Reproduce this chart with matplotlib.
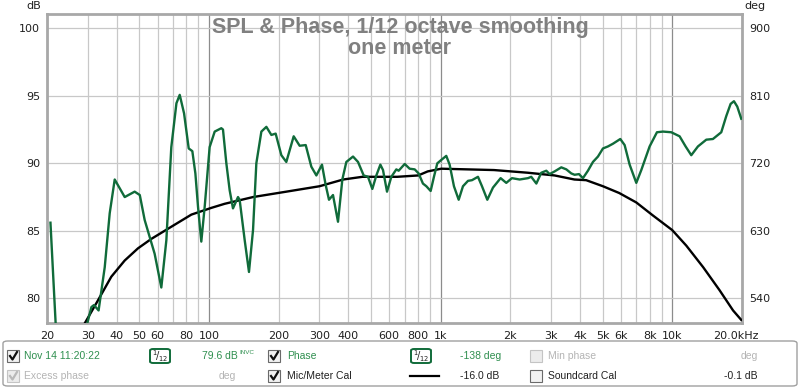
import numpy as np
import matplotlib
matplotlib.use("Agg")
import matplotlib.pyplot as plt
import matplotlib.transforms as mtransforms
from matplotlib.patches import FancyBboxPatch, Rectangle
from matplotlib.lines import Line2D

# SPL trace (Hz, dB)
spl_freq = [20.7, 21.8, 22.5, 25.0, 28.0, 30.0, 31.1, 31.9, 33.4, 35.5, 37.3, 39.2, 43.3, 47.8,
            50.3, 52.8, 55.5, 58.3, 62.3, 65.5, 68.8, 72.4, 74.8, 78.1, 81.8, 84.8, 87.4,
            89.7, 92.7, 95.9, 100.7, 105.9, 113.1, 115.0, 118.9, 122.9, 127.0, 133.5, 135.7,
            142.7, 148.9, 155.0, 160.2, 168.4, 177.0, 186.0, 194.1, 205.4, 215.8, 232.2,
            246.4, 261.7, 276.7, 290.9, 307.6, 319.1, 329.8, 343.2, 360.7, 376.6, 391.8,
            418.8, 440.1, 465.6, 486.0, 507.4, 528.0, 549.5, 564.2, 587.1, 612.9, 644.0,
            659, 700, 735, 773, 804, 839, 868, 906, 936, 968, 1007, 1058, 1094, 1142, 1197,
            1249, 1313, 1366, 1450, 1509, 1591, 1683, 1816, 1921, 2032, 2194, 2384, 2462,
            2590, 2720, 2860, 2955, 3106, 3319, 3489, 3666, 3788, 3956, 4116, 4325, 4546,
            4778, 5022, 5278, 5546, 5966, 6229, 6547, 6994, 7351, 7985, 8588, 9118, 9902,
            10758, 11418, 12080, 12908, 14024, 14980, 16276, 17106, 17860, 18462, 19082, 19854]
spl_db = [85.6, 78.1, 77.0, 74.5, 76.0, 78.3, 79.35, 79.5, 79.1, 82.3, 86.3, 88.8, 87.5, 87.9,
          87.65, 85.8, 84.55, 83.3, 80.8, 84.3, 91.2, 94.45, 95.07, 93.7, 91.1, 90.9, 89.25,
          86.8, 84.2, 86.8, 91.2, 92.35, 92.6, 92.5, 90.0, 88.0, 86.66, 87.5, 87.3,
          84.3, 81.95, 85.05, 90.0, 92.35, 92.7, 92.1, 92.2, 90.6, 90.1, 92.0,
          91.3, 91.35, 89.75, 89.1, 89.9, 88.4, 87.3, 87.65, 85.67, 88.8, 90.1,
          90.5, 90.1, 89.1, 89.0, 88.1, 89.1, 89.9, 89.5, 87.9, 89.0, 89.55,
          89.45, 89.95, 89.6, 89.55, 89.25, 88.5, 88.3, 87.95, 89.0, 90.0, 90.25, 90.55, 89.9,
          88.3, 87.3, 88.3, 88.7, 88.75, 89.0, 88.3, 87.3, 88.2, 88.9, 88.55, 88.9, 88.8,
          88.9, 89.0, 88.5, 89.3, 89.45, 89.2, 89.4, 89.7, 89.55, 89.25, 89.15, 89.2,
          88.9, 89.45, 90.1, 90.5, 91.1, 91.25, 91.45, 91.8, 91.35, 89.9, 88.55, 89.5,
          91.25, 92.3, 92.35, 92.3, 92.0, 91.25, 90.6, 91.25, 91.75, 91.8, 92.3, 93.5,
          94.4, 94.6, 94.2, 93.3]

# Mic/Meter cal curve (Hz, dB)
cal_freq = [29.0, 33.2, 37.9, 43.3, 49.4, 56.4, 68.8, 84.0, 102.5, 116.9, 155, 216, 300, 380,
            460, 650, 800, 880, 1007, 1700, 2384, 3106, 3780, 4250, 5022, 5900, 6994, 8230,
            10000, 11500, 13600, 16000, 18300, 19850]
cal_db = [78.1, 79.85, 81.6, 82.8, 83.7, 84.4, 85.3, 86.2, 86.7, 87.0, 87.5, 87.9, 88.3, 88.8,
          89.0, 89.0, 89.1, 89.4, 89.6, 89.5, 89.3, 89.1, 88.8, 88.75, 88.3, 87.8, 87.1, 86.15,
          85.05, 83.9, 82.3, 80.6, 79.1, 78.4]

xtick_vals = [20, 30, 40, 50, 60, 80, 100, 200, 300, 400, 600, 800, 1000, 2000, 3000, 4000,
              5000, 6000, 8000, 10000, 20000]
xtick_labels = ["20", "30", "40", "50", "60", "80", "100", "200", "300", "400", "600", "800",
                "1k", "2k", "3k", "4k", "5k", "6k", "8k", "10k", "20.0kHz"]
ytick_vals = [80, 85, 90, 95, 100]
deg_ticks = [540, 630, 720, 810, 900]

W, H = 800, 389
plt.rcParams['font.family'] = ['Liberation Sans', 'DejaVu Sans']

fig = plt.figure(figsize=(W / 100, H / 100), dpi=100)


def fx(x):
    return x / W


def fy(y):
    return 1 - y / H


ax = fig.add_axes([fx(47), fy(323), 695 / W, 309 / H])
ax.set_xscale('log')
ax.set_xlim(20, 20000)
ax.set_ylim(78.17, 101.06)

# grid lines: light for minor, darker at decades
grid_x = [m * 10 ** e for e in range(1, 5) for m in range(1, 10) if 20 <= m * 10 ** e <= 20000]
for g in grid_x:
    dec = g in (100, 1000, 10000)
    ax.axvline(g, color='#8c8c8c' if dec else '#c8c8c8', lw=0.9, zorder=1)
for g in ytick_vals:
    ax.axhline(g, color='#c8c8c8', lw=0.9, zorder=1)

ax.plot(cal_freq, cal_db, color='black', lw=1.7, zorder=3, solid_joinstyle='round')
ax.plot(spl_freq, spl_db, color='#106b3a', lw=1.7, zorder=4, solid_joinstyle='round')

tick_font = dict(family='DejaVu Sans', size=8)
ax.set_xticks(xtick_vals)
ax.set_xticklabels(xtick_labels, **tick_font)
ax.xaxis.set_minor_locator(matplotlib.ticker.NullLocator())
ax.set_yticks(ytick_vals)
ax.set_yticklabels([str(v) for v in ytick_vals], **tick_font)
ax.tick_params(length=0, pad=5, colors='#202020')
ax.tick_params(axis='x', pad=6)
# last label sits a bit left of its tick in the original
lab = ax.get_xticklabels()[-1]
lab.set_transform(lab.get_transform() + mtransforms.ScaledTranslation(-6 / 100, 0, fig.dpi_scale_trans))
for s in ax.spines.values():
    s.set_color('#a8a8a8')
    s.set_linewidth(2)

ax2 = ax.twinx()
ax2.set_ylim((78.17 - 90) * 18 + 720, (101.06 - 90) * 18 + 720)
ax2.set_yticks(deg_ticks)
ax2.set_yticklabels([str(v) for v in deg_ticks], **tick_font)
ax2.tick_params(length=0, pad=5, colors='#202020')
for s in ax2.spines.values():
    s.set_visible(False)

fig.text(fx(34), fy(6), 'dB', ha='center', va='center', color='#202020', **tick_font)
fig.text(fx(755), fy(6), 'deg', ha='center', va='center', color='#202020', **tick_font)

# title
fig.text(fx(400), fy(27), 'SPL & Phase, 1/12 octave smoothing', fontsize=15.5,
         fontweight='bold', color='#808080', ha='center', va='center')
fig.text(fx(400), fy(48), 'one meter', fontsize=15.5, fontweight='bold',
         color='#808080', ha='center', va='center')

# legend panel
panel = FancyBboxPatch((fx(3), fy(386)), fx(794), 45 / H, boxstyle='round,pad=0,rounding_size=0.006',
                       transform=fig.transFigure, fc='white', ec='#a0a0a0', lw=1)
fig.patches.append(panel)

green_txt = '#2f8f4f'
grey_txt = '#b4b4b4'


def checkbox(x, yc, checked=True, enabled=True):
    ec = '#6a6a6a' if enabled else '#c4c4c4'
    fc = '#f2f2f2' if enabled else '#ececec'
    fig.patches.append(Rectangle((fx(x), fy(yc + 6)), 12 / W, 12 / H, transform=fig.transFigure,
                                 fc=fc, ec=ec, lw=0.8))
    if checked:
        cc = '#101010' if enabled else '#b8b8b8'
        fig.lines.append(Line2D([fx(x + 3), fx(x + 5.5), fx(x + 10)],
                                [fy(yc), fy(yc + 3.5), fy(yc - 4)],
                                transform=fig.transFigure, color=cc, lw=1.6))


def smooth_icon(x0, yc):
    fig.lines.append(Line2D([fx(x0), fx(x0 + 32)], [fy(yc), fy(yc)],
                            transform=fig.transFigure, color='#106b3a', lw=1.2, zorder=1))
    fig.patches.append(FancyBboxPatch((fx(x0 + 6), fy(yc + 7)), 20 / W, 14 / H,
                                      boxstyle='round,pad=0,rounding_size=0.004',
                                      transform=fig.transFigure, fc='white', ec='#106b3a', lw=1.4))
    fig.text(fx(x0 + 16), fy(yc), r'$^{1}\!/_{12}$', fontsize=7, ha='center', va='center',
             color='#202020', family='DejaVu Sans')


r1, r2 = 356, 376
fs = 7.5
checkbox(7, r1)
fig.text(fx(24), fy(r1), 'Nov 14 11:20:22', fontsize=fs, color=green_txt, va='center')
smooth_icon(144, r1)
fig.text(fx(202), fy(r1), '79.6 dB', fontsize=fs, color=green_txt, va='center')
fig.text(fx(239), fy(r1 - 3), 'INVC', fontsize=4.5, color=green_txt, va='center')
checkbox(268, r1)
fig.text(fx(287), fy(r1), 'Phase', fontsize=fs, color=green_txt, va='center')
smooth_icon(405, r1)
fig.text(fx(460), fy(r1), '-138 deg', fontsize=fs, color=green_txt, va='center')
checkbox(530, r1, checked=False, enabled=False)
fig.text(fx(548), fy(r1), 'Min phase', fontsize=fs, color=grey_txt, va='center')
fig.text(fx(758), fy(r1), 'deg', fontsize=fs, color=grey_txt, va='center', ha='right')

checkbox(7, r2, enabled=False)
fig.text(fx(24), fy(r2), 'Excess phase', fontsize=fs, color=grey_txt, va='center')
fig.text(fx(227), fy(r2), 'deg', fontsize=fs, color=grey_txt, va='center', ha='center')
checkbox(268, r2)
fig.text(fx(287), fy(r2), 'Mic/Meter Cal', fontsize=fs, color='#202020', va='center')
fig.lines.append(Line2D([fx(410), fx(439)], [fy(r2), fy(r2)], transform=fig.transFigure,
                        color='black', lw=1.6))
fig.text(fx(460), fy(r2), '-16.0 dB', fontsize=fs, color='#202020', va='center')
checkbox(530, r2, checked=False)
fig.text(fx(548), fy(r2), 'Soundcard Cal', fontsize=fs, color='#202020', va='center')
fig.text(fx(758), fy(r2), '-0.1 dB', fontsize=fs, color='#202020', va='center', ha='right')

fig.savefig('out.png', dpi=100, facecolor='white')
